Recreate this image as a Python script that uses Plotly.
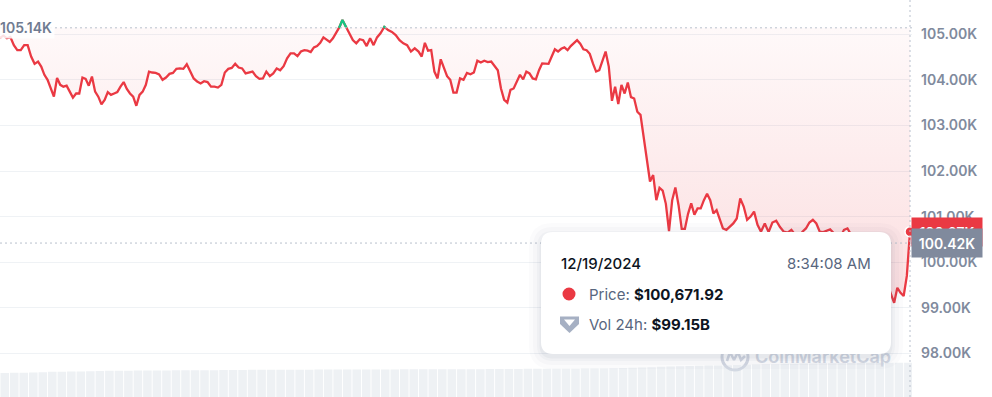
import plotly.graph_objects as go
from datetime import datetime, timedelta

# ---------------- data (price in thousands of USD) ----------------
prices_k = [
    104.92, 104.97, 104.91, 104.94, 104.76, 104.65, 104.65, 104.76, 104.76, 104.51, 104.35,
    104.40, 104.29, 104.11, 104.00, 103.83, 103.63, 104.04, 103.89, 103.85, 103.87, 103.74, 103.61,
    103.70, 103.70, 104.05, 104.02, 103.87, 104.07, 103.74, 103.63, 103.46, 103.56, 103.73, 103.67,
    103.70, 103.73, 103.85, 103.95, 103.80, 103.70, 103.63, 103.43, 103.67, 103.74, 103.89, 104.18,
    104.16, 104.15, 104.12, 104.00, 104.05, 104.13, 104.15, 104.24, 104.25, 104.24, 104.34,
    104.19, 104.03, 103.96, 103.92, 103.97, 103.95, 103.85, 103.85, 103.83, 103.89, 104.16,
    104.24, 104.26, 104.35, 104.27, 104.25, 104.14, 104.16, 104.18, 104.08, 104.02, 104.03,
    104.18, 104.08, 104.14, 104.25, 104.21, 104.30, 104.47, 104.58, 104.58, 104.52, 104.62,
    104.65, 104.64, 104.61, 104.71, 104.74, 104.81, 104.93, 104.87, 104.83, 104.91, 105.03, 105.15,
    105.31, 105.16, 105.02, 104.87, 104.80, 104.89, 104.87, 104.74, 104.91, 104.76, 104.93,
    105.02, 105.16, 105.09, 105.05, 104.98, 104.87, 104.80, 104.76, 104.62, 104.69,
    104.62, 104.51, 104.81, 104.64, 104.65, 104.18, 104.03, 104.45, 104.25, 104.08, 104.00, 103.72,
    103.72, 104.03, 104.00, 104.15, 104.12, 104.16, 104.42, 104.38, 104.42, 104.39, 104.40,
    104.29, 104.21, 103.81, 103.56, 103.50, 103.78, 103.81, 103.96, 104.11, 104.01, 104.18, 104.14,
    104.03, 104.01, 104.21, 104.36, 104.35, 104.35, 104.51, 104.67, 104.62, 104.68, 104.71, 104.65,
    104.74, 104.80, 104.87, 104.79, 104.67, 104.65, 104.57, 104.36, 104.18, 104.21, 104.43, 104.62,
    104.29, 103.54, 103.85, 103.47, 103.89, 103.70, 103.94, 103.62, 103.59, 103.30, 103.23, 102.75,
    102.17, 101.77, 101.91, 101.36, 101.63, 101.57, 101.28, 100.68, 101.36, 101.64, 101.25, 100.73,
    100.73, 101.06, 101.29, 101.04, 101.18, 101.18, 101.36, 101.50, 101.36, 101.07, 101.14, 100.93,
    100.74, 100.71, 100.78, 100.85, 100.96, 101.40, 101.22, 100.93, 101.00, 101.11, 100.82,
    100.67, 100.85, 100.66, 100.87, 100.91, 100.77, 100.67, 100.65, 100.71, 100.60,
    100.56, 100.67, 100.74, 100.87, 100.93, 100.85, 100.67, 100.66, 100.69, 100.72, 100.64,
    100.56, 100.56, 100.71, 100.74, 100.60, 100.48, 100.35, 100.41, 100.22, 100.05, 100.12,
    99.95, 99.80, 99.66, 99.70, 99.48, 99.30, 99.11, 99.44, 99.33, 99.26, 99.70, 100.67,
]
points_per_hour = [11, 12, 12, 12, 11, 11, 11, 11, 12, 11, 10, 12,
                   11, 12, 12, 12, 12, 12, 12, 11, 10, 11, 11, 12]

# 24h volume (billions USD), one bar per 15 minutes
volume_b = [
    92.0, 92.1, 92.2, 92.3, 92.6, 92.8, 92.9, 93.0, 93.1, 93.2, 93.4, 93.5,
    93.6, 93.6, 93.7, 93.7, 93.8, 93.8, 93.9, 93.9, 94.0, 94.0, 94.0, 94.1,
    94.1, 94.1, 94.2, 94.2, 94.2, 94.3, 94.3, 94.3, 94.3, 94.4, 94.4, 94.4,
    94.4, 94.5, 94.5, 94.5, 94.5, 94.5, 94.6, 94.6, 94.6, 94.6, 94.6, 94.7,
    94.7, 94.7, 94.7, 94.8, 94.8, 94.8, 94.8, 94.9, 94.9, 94.9, 95.0, 95.0,
    95.0, 95.1, 95.1, 95.2, 95.3, 95.5, 95.7, 95.9, 96.1, 96.3, 96.5, 96.7,
    96.9, 97.0, 97.2, 97.3, 97.5, 97.6, 97.8, 97.9, 98.1, 98.2, 98.4, 98.5,
    98.6, 98.7, 98.8, 98.9, 98.9, 99.0, 99.0, 99.1, 99.1, 99.1, 99.15, 99.15,
]

baseline_k = 105.14
current_k = 100.67
cursor_k = 100.42
tick_vals = [98, 99, 100, 101, 102, 103, 104, 105]
tick_text = ["98.00K", "99.00K", "100.00K", "101.00K", "102.00K", "103.00K", "104.00K", "105.00K"]
high_label = "105.14K"
current_label = "100.67K"
cursor_label = "100.42K"
tip_date = "12/19/2024"
tip_time = "8:34:08 AM"
tip_price = "$100,671.92"
tip_vol = "$99.15B"

# ---------------- build ----------------
W, H = 992, 397
PLOT_R = 912
RED, GREEN = "#ea3943", "#16c784"
FONT = "Inter, sans-serif"

start = datetime(2024, 12, 18, 8, 35)
times = []
for h, n in enumerate(points_per_hour):
    for k in range(n):
        times.append(start + timedelta(minutes=60 * h + 60 * k / n))
prices = prices_k[:len(times)]
vol_times = [start + timedelta(minutes=15 * i + 7.5) for i in range(len(volume_b))]

t0, tl = times[0], times[-1]
span = tl - t0
x_end = tl + span * (2 / 910)

# green segments (above baseline)
gx, gy = [], []
for i, v in enumerate(prices):
    if i > 0:
        pv = prices[i - 1]
        if (pv - baseline_k) * (v - baseline_k) < 0:
            f = (baseline_k - pv) / (v - pv)
            tx = times[i - 1] + (times[i] - times[i - 1]) * f
            gx.append(tx); gy.append(baseline_k)
            if v < baseline_k:
                gx.append(None); gy.append(None)
    if v >= baseline_k:
        gx.append(times[i]); gy.append(v)

fig = go.Figure()
fig.add_trace(go.Scatter(x=times, y=[baseline_k] * len(times), mode="lines",
                         line=dict(width=0), hoverinfo="skip", showlegend=False))
fig.add_trace(go.Scatter(
    x=times, y=prices, mode="lines", line=dict(color=RED, width=2.3),
    fill="tonexty",
    fillgradient=dict(type="vertical", start=99.0, stop=baseline_k,
                      colorscale=[[0, "rgba(234,57,67,0.17)"], [1, "rgba(234,57,67,0.03)"]]),
    showlegend=False, hoverinfo="skip"))
fig.add_trace(go.Scatter(x=gx, y=gy, mode="lines", line=dict(color=GREEN, width=2.3),
                         showlegend=False, hoverinfo="skip"))
fig.add_trace(go.Scatter(x=[times[-1]], y=[prices[-1]], mode="markers",
                         marker=dict(size=10, color=RED, line=dict(color="white", width=1.5)),
                         showlegend=False, hoverinfo="skip"))
fig.add_trace(go.Bar(x=vol_times, y=volume_b, yaxis="y2", marker=dict(color="#eef1f4", line=dict(width=0)),
                     width=15 * 60 * 1000 * 0.9, showlegend=False, hoverinfo="skip"))

# watermark (drawn in trace layer so the tooltip covers it)
def fx(p):
    return p / PLOT_R

def fy(p):
    return 1 - p / H

wm = "#d3d9e3"
fig.add_trace(go.Scatter(x=[fx(735)], y=[fy(357)], xaxis="x2", yaxis="y3", mode="markers",
                         marker=dict(symbol="circle-open", size=26, color=wm, line=dict(width=3, color=wm)),
                         showlegend=False, hoverinfo="skip"))
fig.add_trace(go.Scatter(x=[fx(p) for p in (727, 730, 734, 738, 741, 745)],
                         y=[fy(p) for p in (361, 352, 360, 352, 360, 356)],
                         xaxis="x2", yaxis="y3", mode="lines", line=dict(color=wm, width=2.5),
                         showlegend=False, hoverinfo="skip"))
fig.add_trace(go.Scatter(x=[fx(755)], y=[fy(358)], xaxis="x2", yaxis="y3", mode="text",
                         text=["CoinMarketCap"], textposition="middle right",
                         textfont=dict(family=FONT, size=18, color=wm, weight=600),
                         showlegend=False, hoverinfo="skip"))

def X(p):
    return p / W

def Y(p):
    return 1 - p / H

def rrect(x0, y0, x1, y1, r):
    return (f"M {X(x0 + r)},{Y(y0)} L {X(x1 - r)},{Y(y0)} Q {X(x1)},{Y(y0)} {X(x1)},{Y(y0 + r)} "
            f"L {X(x1)},{Y(y1 - r)} Q {X(x1)},{Y(y1)} {X(x1 - r)},{Y(y1)} L {X(x0 + r)},{Y(y1)} "
            f"Q {X(x0)},{Y(y1)} {X(x0)},{Y(y1 - r)} L {X(x0)},{Y(y0 + r)} Q {X(x0)},{Y(y0)} {X(x0 + r)},{Y(y0)} Z")

dots = dict(color="#b8c0cd", width=1, dash="2px,3px")
shapes = [
    dict(type="line", xref="paper", yref="y", x0=0, x1=X(PLOT_R), y0=baseline_k, y1=baseline_k,
         line=dots, layer="above"),
    dict(type="line", xref="paper", yref="y", x0=0, x1=X(PLOT_R), y0=cursor_k, y1=cursor_k,
         line=dots, layer="above"),
    dict(type="line", xref="x", yref="paper", x0=times[-1], x1=times[-1], y0=0, y1=1,
         line=dots, layer="above"),
]
tx0, ty0, tx1, ty1 = 541, 232, 891, 354
for e, a in ((12, 0.025), (8, 0.03), (4, 0.04), (1.5, 0.05)):
    shapes.append(dict(type="path", xref="paper", yref="paper",
                       path=rrect(tx0 - e, ty0 - e + 3, tx1 + e, ty1 + e + 3, 12 + e),
                       fillcolor=f"rgba(88,102,126,{a})", line=dict(width=0), layer="above"))
shapes.append(dict(type="path", xref="paper", yref="paper", path=rrect(tx0, ty0, tx1, ty1, 12),
                   fillcolor="white", line=dict(width=0), layer="above"))
shapes.append(dict(type="circle", xref="paper", yref="paper", x0=X(562.5), x1=X(575.5),
                   y0=Y(300.5), y1=Y(287.5), fillcolor=RED, line=dict(width=0), layer="above"))
shapes.append(dict(type="path", xref="paper", yref="paper",
                   path=f"M {X(560)},{Y(316.5)} L {X(579)},{Y(316.5)} L {X(579)},{Y(324)} "
                        f"Q {X(569.5)},{Y(333)} {X(569.5)},{Y(333)} Q {X(560)},{Y(324)} {X(560)},{Y(324)} Z",
                   fillcolor="#a6b0c3", line=dict(width=0), layer="above"))
shapes.append(dict(type="path", xref="paper", yref="paper",
                   path=f"M {X(564)},{Y(319.5)} L {X(575)},{Y(319.5)} L {X(569.5)},{Y(326)} Z",
                   fillcolor="white", line=dict(width=0), layer="above"))

annotations = [
    dict(xref="paper", yref="y", x=X(-3), y=baseline_k, xanchor="left", yanchor="middle",
         text=high_label, showarrow=False, bgcolor="rgba(255,255,255,0.85)", borderpad=2,
         font=dict(family=FONT, size=14, color="#6f7b91", weight=600)),
    dict(xref="paper", yref="y", x=X(947), y=current_k, xanchor="center", yanchor="middle",
         text=current_label, showarrow=False, bgcolor=RED, width=66, height=24, borderpad=2,
         font=dict(family=FONT, size=14, color="white", weight=600)),
    dict(xref="paper", yref="y", x=X(947), y=cursor_k, xanchor="center", yanchor="middle",
         text=cursor_label, showarrow=False, bgcolor="#808a9d", width=66, height=24, borderpad=2,
         font=dict(family=FONT, size=14, color="white", weight=600)),
    dict(xref="paper", yref="paper", x=X(559), y=Y(263), xanchor="left", yanchor="middle",
         text=tip_date, showarrow=False,
         font=dict(family=FONT, size=15, color="#0d1421", weight=500)),
    dict(xref="paper", yref="paper", x=X(873), y=Y(263), xanchor="right", yanchor="middle",
         text=tip_time, showarrow=False,
         font=dict(family=FONT, size=15, color="#58667e")),
    dict(xref="paper", yref="paper", x=X(587), y=Y(294), xanchor="left", yanchor="middle",
         text=f"<span style='color:#58667e'>Price: </span><b>{tip_price}</b>", showarrow=False,
         font=dict(family=FONT, size=15, color="#0d1421")),
    dict(xref="paper", yref="paper", x=X(587), y=Y(324), xanchor="left", yanchor="middle",
         text=f"<span style='color:#58667e'>Vol 24h: </span><b>{tip_vol}</b>", showarrow=False,
         font=dict(family=FONT, size=15, color="#0d1421")),
]

fig.update_layout(
    width=W, height=H, margin=dict(l=0, r=0, t=0, b=0),
    paper_bgcolor="white", plot_bgcolor="white",
    showlegend=False, bargap=0.1, hovermode=False,
    xaxis=dict(domain=[0, PLOT_R / W], range=[t0, x_end], visible=False),
    xaxis2=dict(overlaying="x", range=[0, 1], visible=False),
    yaxis=dict(side="right", range=[97.044, 105.75], tickvals=tick_vals, ticktext=tick_text,
               showgrid=True, gridcolor="#eff2f5", gridwidth=1, zeroline=False, showline=False,
               ticks="", ticklabelstandoff=8, automargin=False,
               tickfont=dict(family=FONT, size=14, color="#808a9d", weight=600)),
    yaxis2=dict(overlaying="y", range=[75.2, 353.1], visible=False),
    yaxis3=dict(overlaying="y", range=[0, 1], visible=False),
    shapes=shapes, annotations=annotations,
)

fig.write_html("out.html", config={"displayModeBar": False},
               post_script="document.body.style.margin='0';document.body.style.overflow='hidden';")
